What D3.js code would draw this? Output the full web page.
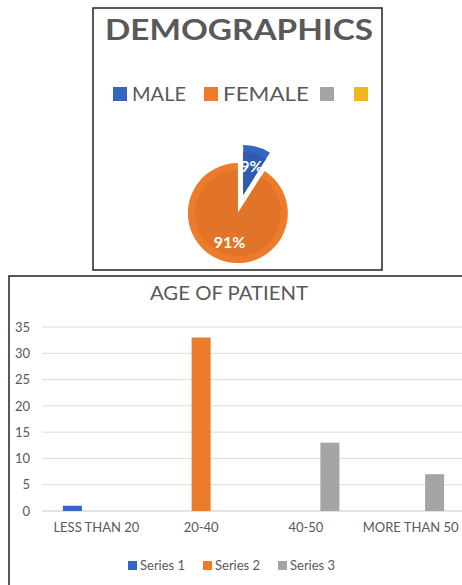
<!DOCTYPE html>
<html>
<head>
<meta charset="utf-8">
<script src="https://cdn.jsdelivr.net/npm/d3@7"></script>
<style>
  html, body { margin: 0; padding: 0; background: #fff; }
  svg { display: block; font-family: Lato, "Open Sans", "Liberation Sans", sans-serif; }
</style>
</head>
<body>
<svg id="chart" width="462" height="585"></svg>
<script>
// ---- Data: pie chart ----
const pieTitle = "DEMOGRAPHICS";
const pieLabels = ["MALE", "FEMALE", "", ""];
const pieValues = [9, 91, 0, 0];
const pieColors = ["#3565C0", "#EC7C2C", "#A5A5A5", "#F0B81C"];

// ---- Data: bar chart ----
const barTitle = "AGE OF PATIENT";
const categories = ["LESS THAN 20", "20-40", "40-50", "MORE THAN 50"];
const seriesNames = ["Series 1", "Series 2", "Series 3"];
const series1 = [1, 0, 0, 0];
const series2 = [0, 33, 0, 0];
const series3 = [0, 0, 13, 7];
const yTicks = [0, 5, 10, 15, 20, 25, 30, 35];
const barColors = ["#3565C0", "#EC7C2C", "#A5A5A5"];

const svg = d3.select("#chart");
const textColor = "#595959";

// ================= PIE PANEL =================
const pieBox = {x: 93, y: 8, w: 289, h: 262};
svg.append("rect").attr("x", pieBox.x).attr("y", pieBox.y)
  .attr("width", pieBox.w).attr("height", pieBox.h)
  .attr("fill", "#fff").attr("stroke", "#222").attr("stroke-width", 1.5);

svg.append("text").attr("x", 239).attr("y", 40)
  .attr("text-anchor", "middle")
  .attr("font-size", 29).attr("font-weight", "bold").attr("fill", textColor)
  .attr("textLength", 268).attr("lengthAdjust", "spacingAndGlyphs")
  .text(pieTitle);

// legend
const pieLegendX = [113, 204, 320, 354];
const pieLegendW = [54, 86, 0, 0];
pieLabels.forEach((lab, i) => {
  svg.append("rect").attr("x", pieLegendX[i]).attr("y", 87)
    .attr("width", 14).attr("height", 14).attr("fill", pieColors[i]);
  if (lab) {
    svg.append("text").attr("x", pieLegendX[i] + 19).attr("y", 101)
      .attr("font-size", 20).attr("fill", textColor)
      .attr("textLength", pieLegendW[i]).attr("lengthAdjust", "spacingAndGlyphs")
      .text(lab);
  }
});

// pie
const pieCx = 240.5, pieCy = 204, pieR = 50, explode = 9.5;
const pie = d3.pie().sort(null).value(d => d.v);
const arcs = pie(pieLabels.map((l, i) => ({l, v: pieValues[i], c: pieColors[i]})))
  .filter(a => a.data.v > 0);
const arcOuter = d3.arc().innerRadius(0).outerRadius(pieR);
const arcInner = d3.arc().innerRadius(0).outerRadius(pieR - 7);
const darker = ["#2F5BB0", "#E2742A"];
const pg = svg.append("g");
arcs.forEach((a, i) => {
  const mid = (a.startAngle + a.endAngle) / 2;
  const ox = pieCx + explode * Math.sin(mid);
  const oy = pieCy - explode * Math.cos(mid);
  const g = pg.append("g").attr("transform", `translate(${ox},${oy})`);
  g.append("path").attr("d", arcOuter(a)).attr("fill", a.data.c);
  g.append("path").attr("d", arcInner(a)).attr("fill", darker[i]);
});
arcs.forEach(a => {
  const mid = (a.startAngle + a.endAngle) / 2;
  const ox = pieCx + explode * Math.sin(mid);
  const oy = pieCy - explode * Math.cos(mid);
  const lx = ox + 30 * Math.sin(mid);
  const ly = oy - 30 * Math.cos(mid);
  const total = d3.sum(pieValues);
  svg.append("text").attr("x", lx).attr("y", ly + 6)
    .attr("text-anchor", "middle").attr("font-size", 16).attr("font-weight", "bold")
    .attr("fill", "#fff")
    .text(Math.round(a.data.v / total * 100) + "%");
});

// ================= BAR PANEL =================
svg.append("rect").attr("x", 9).attr("y", 276)
  .attr("width", 470).attr("height", 330)
  .attr("fill", "#fff").attr("stroke", "#222").attr("stroke-width", 1.5);

svg.append("text").attr("x", 229).attr("y", 300)
  .attr("text-anchor", "middle").attr("font-size", 20).attr("fill", textColor)
  .attr("textLength", 158).attr("lengthAdjust", "spacingAndGlyphs")
  .text(barTitle);

const y = d3.scaleLinear().domain([0, 35]).range([511, 327]);
const x0 = d3.scaleBand().domain(categories).range([44, 463]);
const x1 = d3.scaleBand().domain(seriesNames).range([0, 67]).paddingInner(5 / 24);

// gridlines
svg.append("g").selectAll("line").data(yTicks).join("line")
  .attr("x1", 42).attr("x2", 462)
  .attr("y1", d => y(d)).attr("y2", d => y(d))
  .attr("stroke", d => d === 0 ? "#C8C8C8" : "#DCDCDC").attr("stroke-width", 1);

// y axis labels
const yAxis = d3.axisLeft(y).tickValues(yTicks).tickSize(0).tickPadding(0);
const yg = svg.append("g").attr("transform", "translate(30,0)").call(yAxis);
yg.select(".domain").remove();
yg.selectAll("text").attr("font-size", 13).attr("fill", textColor)
  .attr("font-family", "Lato, 'Open Sans', sans-serif");

// x axis labels
const xAxis = d3.axisBottom(x0).tickSize(0).tickPadding(0);
const xg = svg.append("g").attr("transform", "translate(0,523)").call(xAxis);
xg.select(".domain").remove();
xg.selectAll("text").attr("font-size", 13).attr("fill", textColor)
  .attr("font-family", "Lato, 'Open Sans', sans-serif");

// bars
const seriesData = [series1, series2, series3];
const barG = svg.append("g");
categories.forEach((cat, ci) => {
  const base = x0(cat) + x0.bandwidth() / 2 - 33.5;
  seriesNames.forEach((s, si) => {
    const v = seriesData[si][ci];
    if (v <= 0) return;
    barG.append("rect")
      .attr("x", base + x1(s)).attr("width", x1.bandwidth())
      .attr("y", y(v)).attr("height", y(0) - y(v))
      .attr("fill", barColors[si]);
  });
});

// legend
const legX = [128, 203, 278];
seriesNames.forEach((s, i) => {
  svg.append("rect").attr("x", legX[i]).attr("y", 561)
    .attr("width", 9).attr("height", 9).attr("fill", barColors[i]);
  svg.append("text").attr("x", legX[i] + 12).attr("y", 570)
    .attr("font-size", 13).attr("fill", textColor)
    .text(s);
});
</script>
</body>
</html>
